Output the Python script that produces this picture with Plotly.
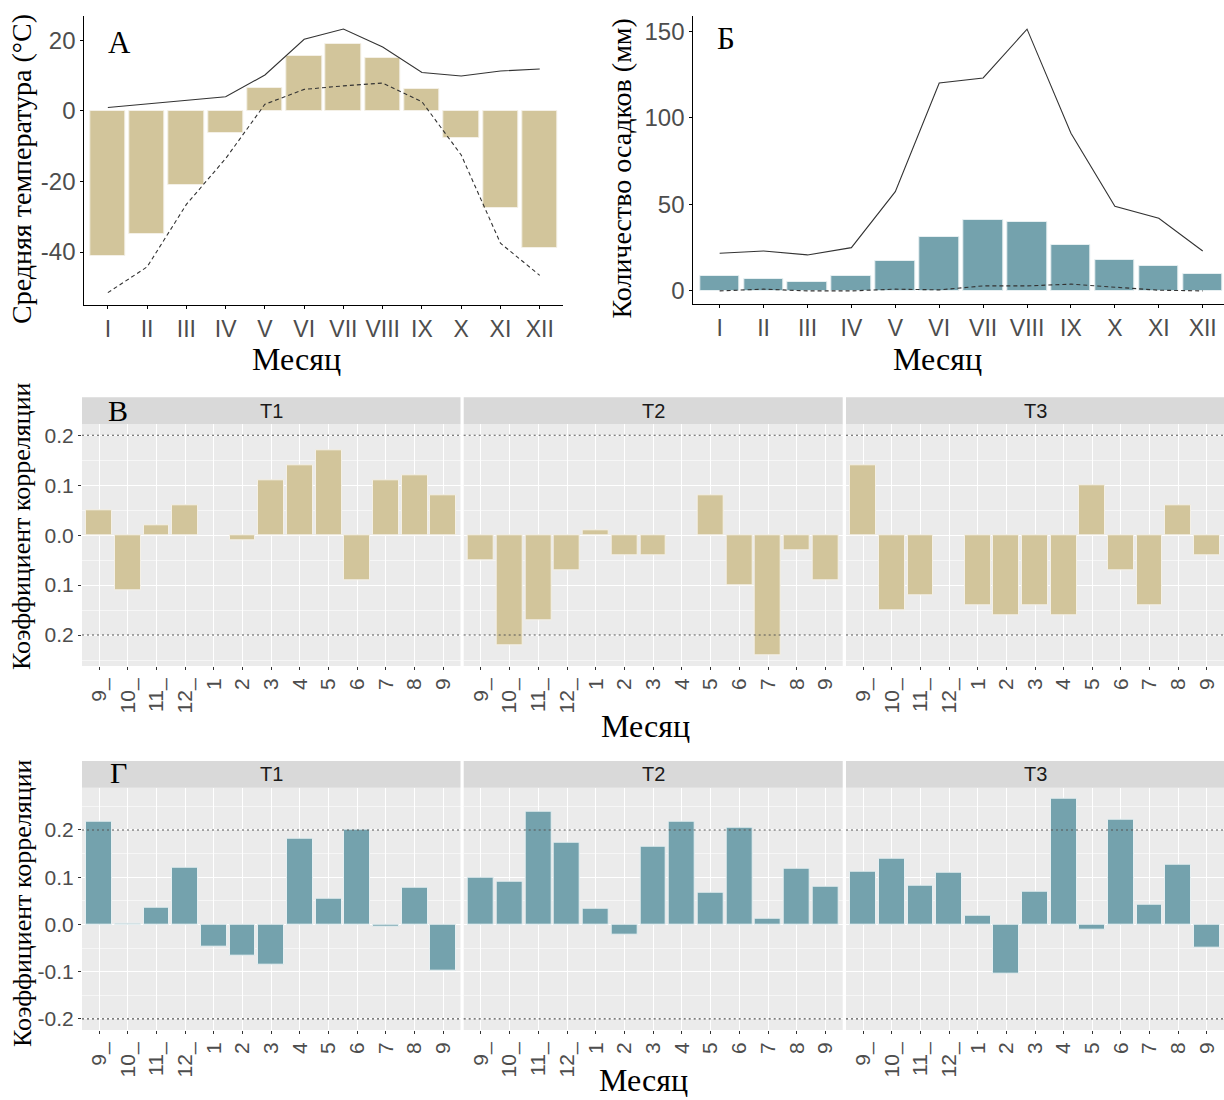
import plotly.graph_objects as go

# ---------------- data ----------------
months_roman = ["I", "II", "III", "IV", "V", "VI", "VII", "VIII", "IX", "X", "XI", "XII"]

temp_mean = [-41.1, -35.0, -21.1, -6.3, 6.4, 15.7, 19.0, 14.9, 6.1, -7.6, -27.6, -38.8]
temp_max = [0.95, 1.9, 2.9, 4.0, 10.2, 20.3, 23.2, 18.1, 10.9, 9.9, 11.3, 11.9]
temp_min = [-51.5, -44.2, -26.5, -13.5, 1.9, 6.1, 7.1, 7.9, 2.6, -12.5, -37.5, -46.6]

prec_mean = [8.5, 7.1, 5.4, 8.5, 17.3, 31.4, 40.8, 39.7, 26.4, 18.1, 14.5, 10.0]
prec_max = [21.8, 23.1, 20.8, 25.0, 57.4, 120.2, 123.1, 151.3, 91.1, 48.9, 42.0, 23.1]
prec_min = [0.0, 1.0, 0.0, 0.0, 1.0, 0.6, 2.9, 2.9, 3.9, 2.1, 0.4, 0.0]

corr_months = ["9_", "10_", "11_", "12_", "1", "2", "3", "4", "5", "6", "7", "8", "9"]
facets = ["T1", "T2", "T3"]

corr_temp_T1 = [0.05, -0.11, 0.02, 0.06, None, -0.01, 0.11, 0.14, 0.17, -0.09, 0.11, 0.12, 0.08]
corr_temp_T2 = [-0.05, -0.22, -0.17, -0.07, 0.01, -0.04, -0.04, None, 0.08, -0.10, -0.24, -0.03, -0.09]
corr_temp_T3 = [0.14, -0.15, -0.12, None, -0.14, -0.16, -0.14, -0.16, 0.10, -0.07, -0.14, 0.06, -0.04]

corr_prec_T1 = [0.218, 0.002, 0.035, 0.121, -0.047, -0.067, -0.085, 0.182, 0.055, 0.200, -0.004, 0.077, -0.097]
corr_prec_T2 = [0.098, 0.090, 0.238, 0.173, 0.033, -0.021, 0.165, 0.217, 0.068, 0.204, 0.013, 0.118, 0.079]
corr_prec_T3 = [0.111, 0.140, 0.082, 0.110, 0.019, -0.105, 0.069, 0.267, -0.011, 0.222, 0.042, 0.127, -0.049]

thresholds = [0.2, -0.2]

temp_ticks = [-40, -20, 0, 20]
prec_ticks = [0, 50, 100, 150]
corr_ticks = [-0.2, -0.1, 0.0, 0.1, 0.2]
corr_temp_ticktext = ["0.2", "0.1", "0.0", "0.1", "0.2"]
corr_prec_ticktext = ["-0.2", "-0.1", "0.0", "0.1", "0.2"]

# ---------------- styling ----------------
W, H = 1224, 1100
TAN = "#D2C59B"
TEAL = "#74A2AD"
SANS = "Liberation Sans, Arial, sans-serif"
SERIF = "Liberation Serif, Times New Roman, serif"
TICKGREY = "#4D4D4D"


def fx(px):
    return px / W


def fy(py):
    return 1 - py / H


fig = go.Figure()

# Panel А: temperature
fig.add_trace(go.Bar(x=months_roman, y=temp_mean, xaxis="x", yaxis="y", width=0.9,
                     marker=dict(color=TAN, line=dict(color="#F4F0E6", width=1))))
fig.add_trace(go.Scatter(x=months_roman, y=temp_max, xaxis="x", yaxis="y", mode="lines",
                         line=dict(color="#333333", width=1.1)))
fig.add_trace(go.Scatter(x=months_roman, y=temp_min, xaxis="x", yaxis="y", mode="lines",
                         line=dict(color="#333333", width=1.1, dash="4px,3px")))

# Panel Б: precipitation
fig.add_trace(go.Bar(x=months_roman, y=prec_mean, xaxis="x2", yaxis="y2", width=0.9,
                     marker=dict(color=TEAL, line=dict(color="#E6EFF1", width=1))))
fig.add_trace(go.Scatter(x=months_roman, y=prec_max, xaxis="x2", yaxis="y2", mode="lines",
                         line=dict(color="#333333", width=1.1)))
fig.add_trace(go.Scatter(x=months_roman, y=prec_min, xaxis="x2", yaxis="y2", mode="lines",
                         line=dict(color="#333333", width=1.1, dash="4px,3px")))

# Panels В and Г
temp_sets = [corr_temp_T1, corr_temp_T2, corr_temp_T3]
prec_sets = [corr_prec_T1, corr_prec_T2, corr_prec_T3]
for i, vals in enumerate(temp_sets):
    fig.add_trace(go.Bar(x=corr_months, y=vals, xaxis=f"x{3 + i}", yaxis=f"y{3 + i}", width=0.9,
                         marker=dict(color=TAN, line=dict(color="#F4F0E6", width=1))))
for i, vals in enumerate(prec_sets):
    fig.add_trace(go.Bar(x=corr_months, y=vals, xaxis=f"x{6 + i}", yaxis=f"y{6 + i}", width=0.9,
                         marker=dict(color=TEAL, line=dict(color="#E6EFF1", width=1))))

layout = dict(
    width=W, height=H, margin=dict(l=0, r=0, t=0, b=0),
    paper_bgcolor="white", plot_bgcolor="rgba(0,0,0,0)",
    showlegend=False, bargap=0,
)

classic_x = dict(type="category", showline=True, linecolor="black", linewidth=1,
                 ticks="outside", ticklen=3, tickcolor="black", showgrid=False, zeroline=False,
                 tickfont=dict(family=SANS, size=23, color=TICKGREY))
classic_y = dict(showline=True, linecolor="black", linewidth=1, ticks="outside", ticklen=3,
                 tickcolor="black", showgrid=False, zeroline=False, tickmode="array",
                 tickfont=dict(family=SANS, size=24, color=TICKGREY))

layout["xaxis"] = dict(classic_x, domain=[fx(84.3), fx(563.3)], anchor="y", range=[-0.6, 11.6])
layout["yaxis"] = dict(classic_y, domain=[fy(305), fy(16)], anchor="x", range=[-55.0, 26.9],
                       tickvals=temp_ticks, ticktext=[str(v) for v in temp_ticks])
layout["xaxis2"] = dict(classic_x, domain=[fx(693.3), 1.0], anchor="y2", range=[-0.6, 11.485])
layout["yaxis2"] = dict(classic_y, domain=[fy(304), fy(16)], anchor="x2", range=[-7.57, 158.9],
                        tickvals=prec_ticks, ticktext=[str(v) for v in prec_ticks])

facet_x = [(82, 460.5), (463.7, 842.7), (846, 1224)]
row_y = {"B": (424.3, 666), "G": (787.7, 1030)}
strip_y = {"B": (397.3, 424.3), "G": (761, 787.7)}
row_range = {"B": [-0.262, 0.222], "G": [-0.2235, 0.2895]}
row_minor = {"B": [-0.25, -0.15, -0.05, 0.05, 0.15], "G": [-0.15, -0.05, 0.05, 0.15, 0.25]}
row_ticktext = {"B": corr_temp_ticktext, "G": corr_prec_ticktext}

shapes = []
annotations = []

for r, base in (("B", 3), ("G", 6)):
    for i in range(3):
        n = base + i
        xa = f"xaxis{n}"
        ya = f"yaxis{n}"
        layout[xa] = dict(type="category", domain=[fx(facet_x[i][0]), fx(facet_x[i][1])],
                          anchor=f"y{n}", range=[-0.6, 12.6], showline=False, zeroline=False,
                          showgrid=True, gridcolor="white", gridwidth=1.1,
                          ticks="outside", ticklen=3, tickcolor="#333333", tickangle=-90,
                          tickfont=dict(family=SANS, size=21, color=TICKGREY))
        layout[ya] = dict(domain=[fy(row_y[r][1]), fy(row_y[r][0])], anchor=f"x{n}",
                          range=row_range[r], showline=False, zeroline=False,
                          showgrid=True, gridcolor="white", gridwidth=1.1,
                          tickmode="array", tickvals=corr_ticks, ticktext=row_ticktext[r],
                          ticks="outside" if i == 0 else "", ticklen=3, tickcolor="#333333",
                          showticklabels=(i == 0),
                          tickfont=dict(family=SANS, size=21, color=TICKGREY),
                          minor=dict(tickmode="array", tickvals=row_minor[r], showgrid=True,
                                     gridcolor="rgba(255,255,255,0.55)", gridwidth=0.7))
        # panel background
        shapes.append(dict(type="rect", xref=f"x{n} domain", yref=f"y{n} domain",
                           x0=0, x1=1, y0=0, y1=1, fillcolor="#EBEBEB",
                           line=dict(width=0), layer="below"))
        # threshold lines
        for t in thresholds:
            shapes.append(dict(type="line", xref=f"x{n} domain", yref=f"y{n}",
                               x0=0, x1=1, y0=t, y1=t,
                               line=dict(color="#555555", width=1.1, dash="2px,3px"),
                               layer="above"))
        # strip
        shapes.append(dict(type="rect", xref="paper", yref="paper",
                           x0=fx(facet_x[i][0]), x1=fx(facet_x[i][1]),
                           y0=fy(strip_y[r][1]), y1=fy(strip_y[r][0]),
                           fillcolor="#D9D9D9", line=dict(width=0), layer="below"))
        annotations.append(dict(text=facets[i], xref="paper", yref="paper",
                                x=fx((facet_x[i][0] + facet_x[i][1]) / 2),
                                y=fy((strip_y[r][0] + strip_y[r][1]) / 2),
                                showarrow=False, xanchor="center", yanchor="middle",
                                font=dict(family=SANS, size=20, color="#1A1A1A")))


def txt(text, x, y, size, angle=0, color="black", family=SERIF, yanchor="middle"):
    annotations.append(dict(text=text, xref="paper", yref="paper", x=fx(x), y=fy(y),
                            showarrow=False, xanchor="center", yanchor=yanchor,
                            textangle=angle, font=dict(family=family, size=size, color=color)))


# panel letters
txt("А", 119, 42, 31)
txt("Б", 726, 38, 31)
txt("В", 118, 410, 30)
txt("Г", 118, 772, 30)

# axis titles
txt("Средняя температура (°C)", 22, 169, 28, angle=-90)
txt("Количество осадков (мм)", 621, 168.5, 28, angle=-90)
txt("Месяц", 296.5, 359, 32)
txt("Месяц", 937.7, 359, 32)
txt("Коэффициент корреляции", 21, 526, 26, angle=-90)
txt("Коэффициент корреляции", 22, 903, 26, angle=-90)
txt("Месяц", 645.5, 726, 32)
txt("Месяц", 643.5, 1100, 32, yanchor="bottom")

layout["shapes"] = shapes
layout["annotations"] = annotations
fig.update_layout(**layout)

fig.write_html("out.html", config={"displayModeBar": False},
               post_script="document.body.style.margin='0';")
